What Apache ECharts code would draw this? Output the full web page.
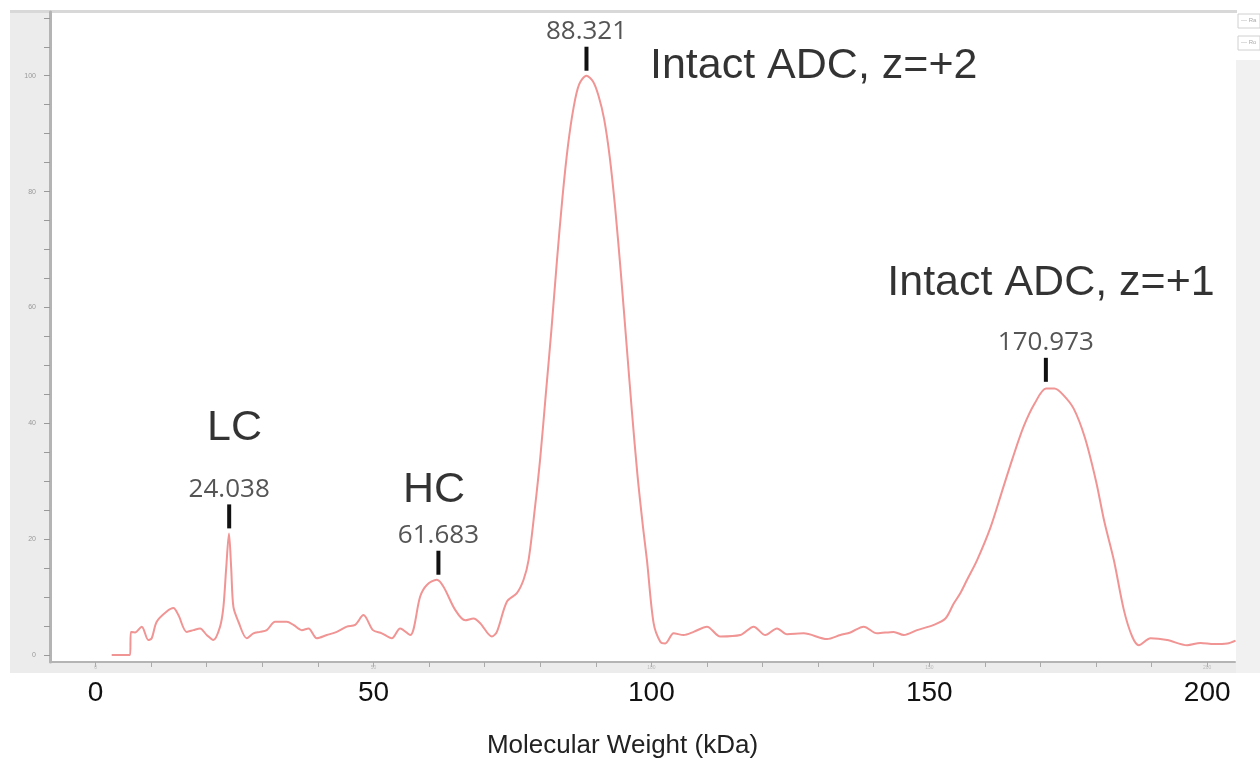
<!DOCTYPE html>
<html>
<head>
<meta charset="utf-8">
<script src="https://cdn.jsdelivr.net/npm/echarts@6/dist/echarts.min.js"></script>
<style>
  html, body { margin: 0; padding: 0; background: #fff; }
  #chart { width: 1260px; height: 760px; }
</style>
</head>
<body>
<div id="chart"></div>
<script>
// deconvoluted spectrum
var massKda = [
    2.9, 6.2, 6.35, 7.1, 8.3, 9.5, 10.1, 11.0, 12.8, 14.0, 14.9, 16.4, 17.6, 18.8, 20.0, 21.2,
    22.4, 23.0, 23.5, 24.0, 24.4, 24.8, 25.7, 27.2, 28.4, 29.6, 30.8, 32.3, 34.4, 35.6, 37.1,
    38.3, 39.8, 41.6, 43.4, 45.2, 46.7, 48.2, 49.9, 51.5, 53.3, 54.8, 56.6, 58.4, 59.6, 61.4,
    62.6, 64.7, 66.5, 68.0, 69.2, 71.3, 72.2, 74.0, 75.8, 77.0, 77.9, 79.0, 80.0, 81.0, 82.0,
    83.0, 84.0, 85.0, 86.0, 87.0, 88.3, 89.5, 90.5, 91.5, 92.5, 93.5, 94.5, 95.5, 96.5, 97.5,
    98.5, 99.2, 100.4, 101.6, 102.5, 104.0, 105.8, 107.6, 110.0, 112.4, 116.0, 118.4, 120.5,
    122.6, 124.4, 127.4, 131.6, 134.0, 135.8, 138.2, 140.6, 143.6, 145.4, 147.8, 150.8, 152.9,
    154.4, 155.6, 156.8, 158.6, 161.0, 163.0, 165.0, 167.0, 169.0, 171.0, 172.5, 174.0, 176.0,
    178.0, 180.0, 181.5, 183.2, 185.0, 186.5, 187.7, 189.8, 192.8, 196.4, 198.8, 201.2, 203.6, 205.1
];
var intensity = [
    0, 0, 4.0, 3.9, 4.9, 2.6, 2.9, 5.75, 7.5, 8.1, 6.9, 4.0, 4.3, 4.6, 3.45, 2.6,
    4.9, 8.3, 15, 21, 15, 8.3, 5.75, 2.9, 3.75, 4.0, 4.3, 5.75, 5.75, 5.2, 4.3,
    4.6, 2.9, 3.45, 4.0, 4.9, 5.2, 6.9, 4.3, 3.75, 2.9, 4.6, 3.45, 10.1, 12.1, 13.0,
    11.8, 7.8, 6.0, 6.3, 5.5, 3.2, 4.0, 9.2, 10.7, 13.0, 16.4, 25, 34, 45, 56,
    68, 79, 88, 94.5, 98.5, 100, 99, 96.5, 92.5, 86, 77, 66, 54, 42, 31,
    22, 16.4, 5.5, 2.3, 2.0, 3.75, 3.45, 4.0, 4.9, 3.2, 3.45, 4.9, 3.45,
    4.6, 3.6, 3.75, 2.75, 3.45, 3.9, 4.9, 3.75, 4.0, 3.45, 4.3, 5.2, 6.3,
    8.9, 10.7, 13.0, 16.4, 22, 28, 34, 39.5, 43.5, 46, 46, 45, 42.5,
    37.5, 30, 23, 16.4, 7.8, 3.2, 1.7, 2.9, 2.6, 1.7, 2.1, 1.9, 2.0, 2.5
];

// labelled peaks
var peakMass = [24.038, 61.683, 88.321, 170.973];
var peakHeight = [21, 13, 100, 46.3];

// big annotations
var annoText = ['LC', 'HC', 'Intact ADC, z=+2', 'Intact ADC, z=+1'];
var annoX = [25.0, 60.9, 129.2, 171.9];
var annoY = [39.2, 28.5, 101.6, 64.2];

// axis ticks
var xLabels = [0, 50, 100, 150, 200];
var xTicks = [0, 10, 20, 30, 40, 50, 60, 70, 80, 90, 100, 110, 120, 130, 140, 150, 160, 170, 180, 190, 200];
var yLabels = [0, 20, 40, 60, 80, 100];
var yTicks = [0, 5, 10, 15, 20, 25, 30, 35, 40, 45, 50, 55, 60, 65, 70, 75, 80, 85, 90, 95, 100, 105, 110];

var spectrum = [];
for (var i = 0; i < massKda.length; i++) {
    spectrum.push([massKda[i], intensity[i]]);
}

var peaks = [];
for (var j = 0; j < peakMass.length; j++) {
    peaks.push({coord: [peakMass[j], peakHeight[j]], value: peakMass[j].toFixed(3)});
}

var annos = [];
for (var k = 0; k < annoText.length; k++) {
    annos.push({value: [annoX[k], annoY[k]], name: annoText[k]});
}

var myChart = echarts.init(document.getElementById('chart'));
myChart.setOption({
    animation: false,
    backgroundColor: '#fff',
    grid: {left: 50, right: 25, top: 12, bottom: 98, outerBoundsMode: 'none'},
    graphic: [
        {type: 'rect', z: -1, shape: {x: 10, y: 10, width: 40, height: 663}, style: {fill: '#ececec'}},
        {type: 'rect', z: -1, shape: {x: 10, y: 662, width: 1228, height: 11}, style: {fill: '#ececec'}},
        {type: 'rect', z: -1, shape: {x: 10, y: 10, width: 1227, height: 3}, style: {fill: '#d8d8d8'}},
        {type: 'rect', z: -1, shape: {x: 1236, y: 60, width: 24, height: 613}, style: {fill: '#f1f1f1'}},
        {type: 'rect', z: -1, shape: {x: 1238, y: 14, width: 22, height: 14}, style: {fill: '#fff', stroke: '#d0d0d0'}},
        {type: 'rect', z: -1, shape: {x: 1238, y: 36, width: 22, height: 14}, style: {fill: '#fff', stroke: '#d0d0d0'}},
        {type: 'text', z: -1, x: 1241, y: 17, style: {text: '— Ra', fontSize: 6, fill: '#aaa'}},
        {type: 'text', z: -1, x: 1241, y: 39, style: {text: '— Ro', fontSize: 6, fill: '#aaa'}}
    ],
    xAxis: [
        {
            type: 'value',
            min: -8.2,
            max: 205,
            axisLine: {onZero: false, lineStyle: {color: '#b4b4b4', width: 2}},
            axisTick: {customValues: xTicks, length: 5, lineStyle: {color: '#aaa'}},
            axisLabel: {customValues: xLabels, fontSize: 5, color: '#bbb', margin: 3},
            splitLine: {show: false}
        },
        {
            type: 'value',
            position: 'bottom',
            min: -8.2,
            max: 205,
            axisLine: {show: false, onZero: false},
            axisTick: {show: false},
            axisLabel: {
                customValues: xLabels,
                fontSize: 28,
                fontFamily: 'Liberation Sans',
                color: '#111',
                margin: 17
            },
            splitLine: {show: false},
            name: 'Molecular Weight (kDa)',
            nameLocation: 'middle',
            nameGap: 71,
            nameTextStyle: {fontSize: 26, fontFamily: 'Liberation Sans', color: '#222', padding: [0, 40, 0, 0]}
        }
    ],
    yAxis: {
        type: 'value',
        min: -1.2,
        max: 111,
        axisLine: {show: true, onZero: false, lineStyle: {color: '#b4b4b4', width: 3}},
        axisTick: {show: true, customValues: yTicks, length: 6, lineStyle: {color: '#999'}},
        axisLabel: {customValues: yLabels, fontSize: 7, color: '#999', margin: 14},
        splitLine: {show: false}
    },
    series: [
        {
            name: 'spectrum',
            type: 'line',
            data: spectrum,
            showSymbol: false,
            smooth: 0.3,
            lineStyle: {color: '#f09494', width: 2},
            markPoint: {
                symbol: 'rect',
                symbolSize: [4, 24],
                symbolOffset: [0, -17],
                itemStyle: {color: '#111'},
                label: {
                    show: true,
                    position: 'top',
                    distance: 2,
                    formatter: '{c}',
                    fontFamily: 'Open Sans',
                    fontSize: 26,
                    color: '#555'
                },
                data: peaks
            }
        },
        {
            name: 'annotations',
            type: 'scatter',
            data: annos,
            symbolSize: 1,
            itemStyle: {color: 'rgba(0,0,0,0)'},
            label: {
                show: true,
                position: 'inside',
                formatter: '{b}',
                fontFamily: 'Liberation Sans',
                fontSize: 43,
                color: '#000'
            }
        }
    ]
});
</script>
</body>
</html>
